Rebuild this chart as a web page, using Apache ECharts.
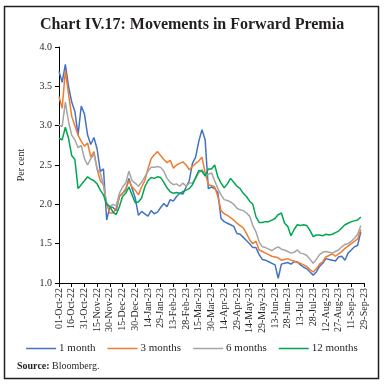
<!DOCTYPE html>
<html><head><meta charset="utf-8">
<script src="https://cdn.jsdelivr.net/npm/echarts@6/dist/echarts.min.js"></script>
<style>html,body{margin:0;padding:0;background:#fff}#c{width:384px;height:387px}</style>
</head><body><div id="c"></div>
<script>
// X-axis tick labels (equally spaced ticks)
const tickLabels = ['01-Oct-22','16-Oct-22','31-Oct-22','15-Nov-22','30-Nov-22','15-Dec-22','30-Dec-22','14-Jan-23','29-Jan-23','13-Feb-23','28-Feb-23','15-Mar-23','30-Mar-23','14-Apr-23','29-Apr-23','14-May-23','29-May-23','13-Jun-23','28-Jun-23','13-Jul-23','28-Jul-23','12-Aug-23','27-Aug-23','11-Sep-23','29-Sep-23'];
// Sample positions, in tick units (0 = 01-Oct-22 ... 24 = 29-Sep-23), one every quarter tick
const samplePos = [0,0.25,0.5,0.75,1,1.25,1.5,1.75,2,2.25,2.5,2.75,3,3.25,3.5,3.75,4,4.25,4.5,4.75,5,5.25,5.5,5.75,6,6.25,6.5,6.75,7,7.25,7.5,7.75,8,8.25,8.5,8.75,9,9.25,9.5,9.75,10,10.25,10.5,10.75,11,11.25,11.5,11.75,12,12.25,12.5,12.75,13,13.25,13.5,13.75,14,14.25,14.5,14.75,15,15.25,15.5,15.75,16,16.25,16.5,16.75,17,17.25,17.5,17.75,18,18.25,18.5,18.75,19,19.25,19.5,19.75,20,20.25,20.5,20.75,21,21.25,21.5,21.75,22,22.25,22.5,22.75,23,23.25,23.5,23.75];
const oneMonth = [3.69,3.55,3.78,3.5,3.3,3.18,2.88,3.25,3.15,2.88,2.76,2.85,2.7,2.42,2.45,1.8,1.97,1.96,1.92,2.1,2.14,2.18,2.33,2.2,2.08,1.86,1.91,1.88,1.85,1.92,1.88,1.9,1.96,2.01,1.97,2.06,2.04,2.1,2.14,2.13,2.22,2.3,2.52,2.6,2.8,2.95,2.82,2.2,2.22,2.2,2.15,1.82,1.78,1.76,1.74,1.72,1.63,1.62,1.58,1.54,1.5,1.45,1.45,1.36,1.3,1.29,1.27,1.25,1.23,1.06,1.24,1.25,1.26,1.24,1.27,1.27,1.23,1.2,1.18,1.14,1.1,1.14,1.21,1.25,1.31,1.3,1.29,1.28,1.33,1.34,1.29,1.38,1.42,1.46,1.48,1.65];
const threeMonths = [3.37,3.22,3.7,3.4,3.12,3.0,2.88,2.8,2.74,2.78,2.6,2.67,2.45,2.3,2.25,2.0,1.89,1.89,1.95,2.1,2.14,2.2,2.3,2.22,2.18,2.12,2.22,2.3,2.45,2.58,2.63,2.67,2.62,2.57,2.53,2.56,2.46,2.5,2.52,2.54,2.5,2.44,2.48,2.52,2.55,2.6,2.4,2.25,2.24,2.22,2.1,1.92,1.88,1.86,1.83,1.8,1.76,1.73,1.7,1.63,1.55,1.5,1.53,1.42,1.4,1.38,1.36,1.34,1.33,1.32,1.29,1.3,1.31,1.29,1.28,1.26,1.25,1.23,1.21,1.17,1.14,1.18,1.24,1.27,1.33,1.35,1.37,1.34,1.37,1.4,1.44,1.47,1.5,1.53,1.56,1.68];
const sixMonths = [3.01,2.99,3.3,3.05,2.88,2.82,2.72,2.75,2.58,2.5,2.58,2.64,2.45,2.4,2.24,2.02,1.97,2.0,1.98,2.14,2.22,2.27,2.42,2.3,2.27,2.23,2.28,2.35,2.42,2.47,2.47,2.48,2.47,2.42,2.33,2.28,2.25,2.26,2.23,2.27,2.23,2.27,2.27,2.33,2.4,2.44,2.38,2.38,2.4,2.3,2.2,2.12,2.06,2.05,2.03,2.0,1.95,1.93,1.92,1.89,1.85,1.73,1.65,1.52,1.46,1.45,1.43,1.41,1.44,1.46,1.43,1.42,1.4,1.38,1.39,1.42,1.38,1.37,1.35,1.3,1.25,1.3,1.36,1.39,1.4,1.39,1.38,1.4,1.42,1.46,1.49,1.5,1.53,1.57,1.62,1.73];
const twelveMonths = [2.84,2.82,2.98,2.84,2.62,2.57,2.2,2.25,2.3,2.35,2.32,2.3,2.26,2.18,2.12,2.0,1.97,1.9,1.87,1.97,2.1,2.14,2.22,2.12,2.02,2.03,2.08,2.22,2.3,2.34,2.33,2.35,2.34,2.28,2.21,2.16,2.14,2.15,2.14,2.16,2.18,2.2,2.25,2.34,2.43,2.42,2.36,2.45,2.45,2.5,2.35,2.27,2.21,2.26,2.33,2.28,2.23,2.2,2.14,2.1,2.04,2.0,1.84,1.77,1.77,1.78,1.78,1.8,1.82,1.87,1.89,1.76,1.72,1.6,1.68,1.74,1.73,1.74,1.73,1.67,1.59,1.61,1.61,1.6,1.62,1.61,1.62,1.64,1.66,1.7,1.74,1.76,1.78,1.79,1.8,1.84];
const seriesNames = ['1 month','3 months','6 months','12 months'];
const seriesColors = ['#4472C4','#ED7D31','#A5A5A5','#00A650'];

const allValues = [oneMonth, threeMonths, sixMonths, twelveMonths];
const serif = '"Liberation Serif", "DejaVu Serif", serif';

const chart = echarts.init(document.getElementById('c'), null, {renderer:'canvas'});
chart.setOption({
  animation:false,
  backgroundColor:'#fff',
  title:{text:'Chart IV.17: Movements in Forward Premia', left:'center', top:12,
    textStyle:{fontFamily:serif, fontSize:16, fontWeight:'bold', color:'#231f20'}},
  grid:{left:59, right:20, top:47, bottom:104},
  xAxis:{type:'value', min:0, max:24, interval:1,
    axisLine:{lineStyle:{color:'#000', width:1}},
    axisTick:{show:true, length:4, inside:false, lineStyle:{color:'#000'}},
    splitLine:{show:false},
    axisLabel:{rotate:90, margin:5, fontFamily:serif, fontSize:10, color:'#231f20',
      formatter:v=>tickLabels[Math.round(v)] || ''}},
  yAxis:{type:'value', min:1, max:4, interval:0.5,
    name:'Per cent', nameLocation:'middle', nameRotate:90, nameGap:33,
    nameTextStyle:{fontFamily:serif, fontSize:10, color:'#231f20'},
    axisLine:{show:true, lineStyle:{color:'#000', width:1}},
    axisTick:{show:true, length:4, lineStyle:{color:'#000'}},
    splitLine:{show:false},
    axisLabel:{margin:7, fontFamily:serif, fontSize:10, color:'#231f20', formatter:v=>v.toFixed(1)}},
  legend:{bottom:28, left:'center', itemWidth:30, itemHeight:1.5, itemGap:12, icon:'rect',
    textStyle:{fontFamily:serif, fontSize:11, color:'#231f20', padding:[0,0,0,-2]},
    data:seriesNames},
  series: allValues.map((vals,i)=>({
    name:seriesNames[i], type:'line', showSymbol:false, symbol:'none',
    lineStyle:{width:1.5, color:seriesColors[i]}, itemStyle:{color:seriesColors[i]},
    data: samplePos.map((p,k)=>[p, vals[k]])
  })),
  graphic:[
    {type:'rect', shape:{x:4.5, y:6.5, width:374, height:372}, style:{fill:'none', stroke:'#231f20', lineWidth:1.5}, silent:true},
    {type:'text', left:17, top:361, style:{text:'{b|Source:} Bloomberg.', fontFamily:serif, fontSize:10, fill:'#231f20',
      rich:{b:{fontWeight:'bold', fontFamily:serif, fontSize:10, fill:'#231f20'}}}}
  ]
});
</script></body></html>
